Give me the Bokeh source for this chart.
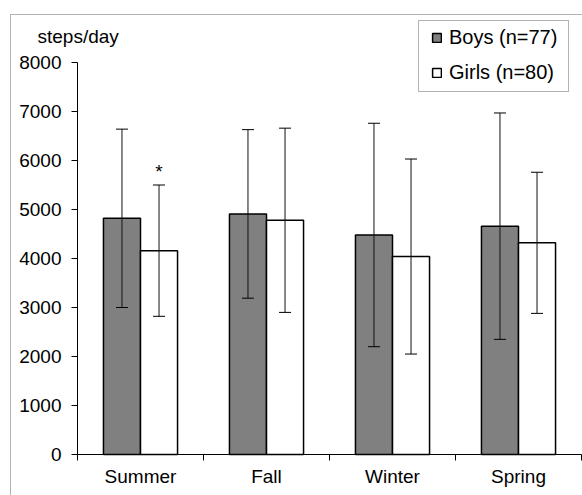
import numpy as np
from bokeh.plotting import figure
from bokeh.models import (ColumnDataSource, Range1d, FixedTicker, LinearAxis, Whisker,
                          TeeHead, Legend, LegendItem, BoxAnnotation, Label)
from bokeh.core.properties import value
from bokeh.embed import file_html
from bokeh.resources import INLINE

# ---- data ----
seasons = ["Summer", "Fall", "Winter", "Spring"]
boys_mean = [4820, 4910, 4480, 4660]
boys_sd = [1820, 1720, 2280, 2310]
girls_mean = [4160, 4780, 4040, 4320]
girls_sd = [1340, 1880, 1990, 1440]
sig_marks = ["*", "", "", ""]
y_ticks = [0, 1000, 2000, 3000, 4000, 5000, 6000, 7000, 8000]
boys_label = "Boys (n=77)"
girls_label = "Girls (n=80)"
y_unit = "steps/day"

FONT = "Liberation Sans"
FS = "19px"

W, H = 582, 495
# pixel layout of the plotting area (axes) inside the canvas
AX_L, AX_R = 77, 581      # x of category range start / end
AX_B, AX_T = 454, 62      # y of value 0 / value 8000

n = len(seasons)
ymax = y_ticks[-1]
px_x = (AX_R - AX_L) / n
px_y = (AX_B - AX_T) / ymax
x0 = -0.5 - AX_L / px_x
x1 = n - 0.5 + (W - AX_R) / px_x
y0 = -(H - AX_B) / px_y
y1 = ymax + AX_T / px_y

idx = np.arange(n)
bw = 0.294
boys_x = idx - bw / 2
girls_x = idx + bw / 2

boys_src = ColumnDataSource(dict(
    x=boys_x, top=boys_mean,
    upper=np.array(boys_mean) + np.array(boys_sd),
    lower=np.array(boys_mean) - np.array(boys_sd)))
girls_src = ColumnDataSource(dict(
    x=girls_x, top=girls_mean,
    upper=np.array(girls_mean) + np.array(girls_sd),
    lower=np.array(girls_mean) - np.array(girls_sd),
    sig=sig_marks))

p = figure(width=W, height=H, output_backend="svg", toolbar_location=None,
           x_range=Range1d(x0, x1), y_range=Range1d(y0, y1),
           x_axis_type=None, y_axis_type=None,
           min_border_left=0, min_border_right=0, min_border_top=0, min_border_bottom=0)
p.title.visible = False
p.outline_line_color = None
p.xgrid.visible = False
p.ygrid.visible = False
p.background_fill_color = "white"
p.border_fill_color = "white"

# axes (placed inside the canvas at fixed data locations)
yaxis = LinearAxis(ticker=FixedTicker(ticks=y_ticks), fixed_location=-0.5, bounds=(0, ymax))
yaxis.major_label_text_font = FONT
yaxis.major_label_text_font_size = FS
yaxis.major_label_text_color = "black"
yaxis.major_tick_out = 6
yaxis.major_tick_in = 0
yaxis.minor_tick_line_color = None
yaxis.axis_line_color = "black"
yaxis.major_tick_line_color = "black"
yaxis.major_label_standoff = 10
p.add_layout(yaxis, "left")

xaxis = LinearAxis(ticker=FixedTicker(ticks=list(idx),
                                      minor_ticks=list(np.arange(n + 1) - 0.5)),
                   fixed_location=0, bounds=(-0.5, n - 0.5))
xaxis.major_label_overrides = {int(i): s for i, s in zip(idx, seasons)}
xaxis.major_label_text_font = FONT
xaxis.major_label_text_font_size = FS
xaxis.major_label_text_color = "black"
xaxis.major_tick_line_color = None
xaxis.major_tick_out = 6
xaxis.major_tick_in = 0
xaxis.minor_tick_line_color = "black"
xaxis.minor_tick_out = 6
xaxis.minor_tick_in = 0
xaxis.axis_line_color = "black"
xaxis.major_label_standoff = 5
p.add_layout(xaxis, "below")

rb = p.vbar(x="x", top="top", bottom=0, width=bw, source=boys_src,
            fill_color="#808080", line_color="black", line_width=1.5)
rg = p.vbar(x="x", top="top", bottom=0, width=bw, source=girls_src,
            fill_color="white", line_color="black", line_width=1.5)

for src in (boys_src, girls_src):
    w = Whisker(base="x", upper="upper", lower="lower", source=src, level="overlay",
                line_color="#111111", line_width=1,
                upper_head=TeeHead(size=12, line_color="black", line_width=1),
                lower_head=TeeHead(size=12, line_color="black", line_width=1))
    p.add_layout(w)

p.text(x="x", y="upper", text="sig", source=girls_src, y_offset=-14,
       text_align="center", text_baseline="alphabetic",
       text_font=value(FONT), text_font_size=FS, text_color="black")

legend = Legend(items=[LegendItem(label=boys_label, renderers=[rb]),
                       LegendItem(label=girls_label, renderers=[rg])],
                location=(431, 408), padding=0, margin=0, spacing=5,
                glyph_width=11, glyph_height=11, label_height=30, label_standoff=7,
                label_text_font=FONT, label_text_font_size="20px", label_text_color="black",
                border_line_color=None, background_fill_alpha=0)
p.add_layout(legend, "center")

# legend frame
p.add_layout(BoxAnnotation(left=418, right=568, top=H - 20, bottom=H - 91,
                           left_units="screen", right_units="screen",
                           top_units="screen", bottom_units="screen",
                           fill_alpha=0, line_color="black", line_width=1, level="overlay"))
# outer chart border
p.add_layout(BoxAnnotation(left=10, right=W + 40, top=H - 14, bottom=-40,
                           left_units="screen", right_units="screen",
                           top_units="screen", bottom_units="screen",
                           fill_alpha=0, line_color="black", line_width=1, level="overlay"))

p.add_layout(Label(x=37, y=H - 36, x_units="screen", y_units="screen", text=y_unit,
                   text_font=FONT, text_font_size=FS, text_color="black",
                   text_baseline="alphabetic"))

open("out.html", "w").write(file_html(p, INLINE))
